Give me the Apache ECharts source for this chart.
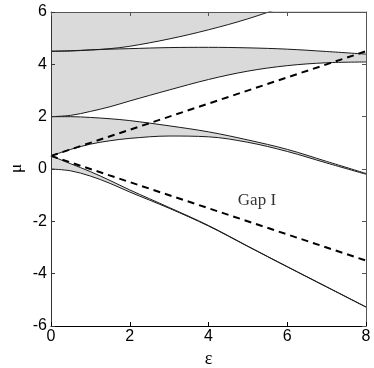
<!DOCTYPE html>
<html>
<head>
<meta charset="utf-8">
<script src="https://cdn.jsdelivr.net/npm/echarts@6/dist/echarts.min.js"></script>
<style>
html,body{margin:0;padding:0;background:#fff}
#chart{width:374px;height:368px}
</style>
</head>
<body>
<div id="chart"></div>
<script>
// epsilon sample points
const eps = [0, 0.5, 1, 1.5, 2, 3, 4, 5, 6, 7, 8]

// band edges (mu)
const band1Low  = [0, -0.07, -0.27, -0.55, -0.88, -1.5, -2.18, -2.96, -3.74, -4.51, -5.28]
const band1High = [0.5, 0.2, -0.1, -0.44, -0.8, -1.47, -2.16, -2.95, -3.73, -4.5, -5.27]
const band2Low  = [0.5, 0.75, 0.95, 1.08, 1.17, 1.26, 1.23, 1.02, 0.67, 0.23, -0.2]
const band2High = [2, 2, 1.97, 1.92, 1.85, 1.65, 1.42, 1.11, 0.75, 0.29, -0.17]
const band3Low  = [2, 2.05, 2.2, 2.38, 2.6, 3.02, 3.42, 3.74, 3.95, 4.06, 4.09]
const band3High = [4.5, 4.52, 4.55, 4.58, 4.6, 4.64, 4.65, 4.63, 4.58, 4.49, 4.39]
const band4Low  = [4.5, 4.51, 4.55, 4.6, 4.69, 4.97, 5.32, 5.74, 6.25, 6.8, 7.4]

// dashed lines
const dashX    = [0, 8]
const dashUp   = [0.5, 4.5]
const dashDown = [0.5, -3.5]

const xTicks = [0, 8, 2]
const yTicks = [-6, 6, 2]

const gapText = 'Gap I'
const gapAt = [5.23, -1.19]

const myChart = echarts.init(document.querySelector('#chart'), null, {renderer: 'canvas'})

const pairs = ys => eps.map((x, i) => [x, ys[i]])
const sm = 0.35
const gray = '#dadada'

// fill every curve up to the top, alternating grey / white so only the bands stay grey
const layers = [
  [band1Low, gray], [band1High, '#fff'],
  [band2Low, gray], [band2High, '#fff'],
  [band3Low, gray], [band3High, '#fff'],
  [band4Low, gray]
]

const series = []
layers.forEach(l => {
  series.push({
    type: 'line', data: pairs(l[0]), symbol: 'none', smooth: sm, silent: true,
    lineStyle: {opacity: 0},
    areaStyle: {origin: 'end', color: l[1], opacity: 1}
  })
})

// the curves themselves
;[band1Low, band1High, band2Low, band2High, band3Low, band3High, band4Low].forEach(c => {
  series.push({
    type: 'line', data: pairs(c), symbol: 'none', smooth: sm, silent: true,
    lineStyle: {color: '#1a1a1a', width: 1}
  })
})

;[dashUp, dashDown].forEach(d => {
  series.push({
    type: 'line', data: dashX.map((x, i) => [x, d[i]]), symbol: 'none', silent: true,
    lineStyle: {color: '#000', width: 2, type: [7, 5]}
  })
})

// "Gap I" annotation placed in data coordinates
series.push({
  type: 'scatter', data: [gapAt], symbolSize: 2, silent: true, z: 20,
  itemStyle: {color: 'rgba(0,0,0,0)'},
  label: {
    show: true, position: 'inside', formatter: gapText,
    fontFamily: 'Liberation Serif', fontSize: 17, color: '#000'
  }
})

const tickLabel = {fontFamily: 'Liberation Sans', fontSize: 16, color: '#000'}
const option = {
  animation: false,
  grid: {left: 51, right: 8, top: 12, bottom: 42, outerBoundsMode: 'none'},
  graphic: [{
    type: 'text', left: 8, top: 164, rotation: Math.PI / 2,
    style: {text: 'μ', fontFamily: 'Liberation Serif', fontSize: 17, fill: '#000'}
  }],
  xAxis: [
    {
      type: 'value', min: xTicks[0], max: xTicks[1], interval: xTicks[2], z: 10,
      name: 'ε', nameLocation: 'middle', nameGap: 16,
      nameTextStyle: {fontFamily: 'Liberation Serif', fontSize: 18, color: '#000'},
      axisLine: {show: true, onZero: false, lineStyle: {color: '#000', width: 1}},
      axisTick: {show: true, inside: true, length: 4, lineStyle: {color: '#000'}},
      axisLabel: Object.assign({margin: 3}, tickLabel),
      splitLine: {show: false}
    },
    {
      type: 'value', position: 'top', min: xTicks[0], max: xTicks[1], interval: xTicks[2], z: 10,
      axisLine: {show: true, onZero: false, lineStyle: {color: '#555', width: 1}},
      axisTick: {show: true, inside: true, length: 4, lineStyle: {color: '#555'}},
      axisLabel: {show: false},
      splitLine: {show: false}
    }
  ],
  yAxis: [
    {
      type: 'value', min: yTicks[0], max: yTicks[1], interval: yTicks[2], z: 10,
      axisLine: {show: true, onZero: false, lineStyle: {color: '#333', width: 1}},
      axisTick: {show: true, inside: true, length: 4, lineStyle: {color: '#333'}},
      axisLabel: Object.assign({margin: 4}, tickLabel),
      splitLine: {show: false}
    },
    {
      type: 'value', position: 'right', min: yTicks[0], max: yTicks[1], interval: yTicks[2], z: 10,
      axisLine: {show: true, onZero: false, lineStyle: {color: '#555', width: 1}},
      axisTick: {show: true, inside: true, length: 4, lineStyle: {color: '#555'}},
      axisLabel: {show: false},
      splitLine: {show: false}
    }
  ],
  series: series
}

myChart.setOption(option)
</script>
</body>
</html>
